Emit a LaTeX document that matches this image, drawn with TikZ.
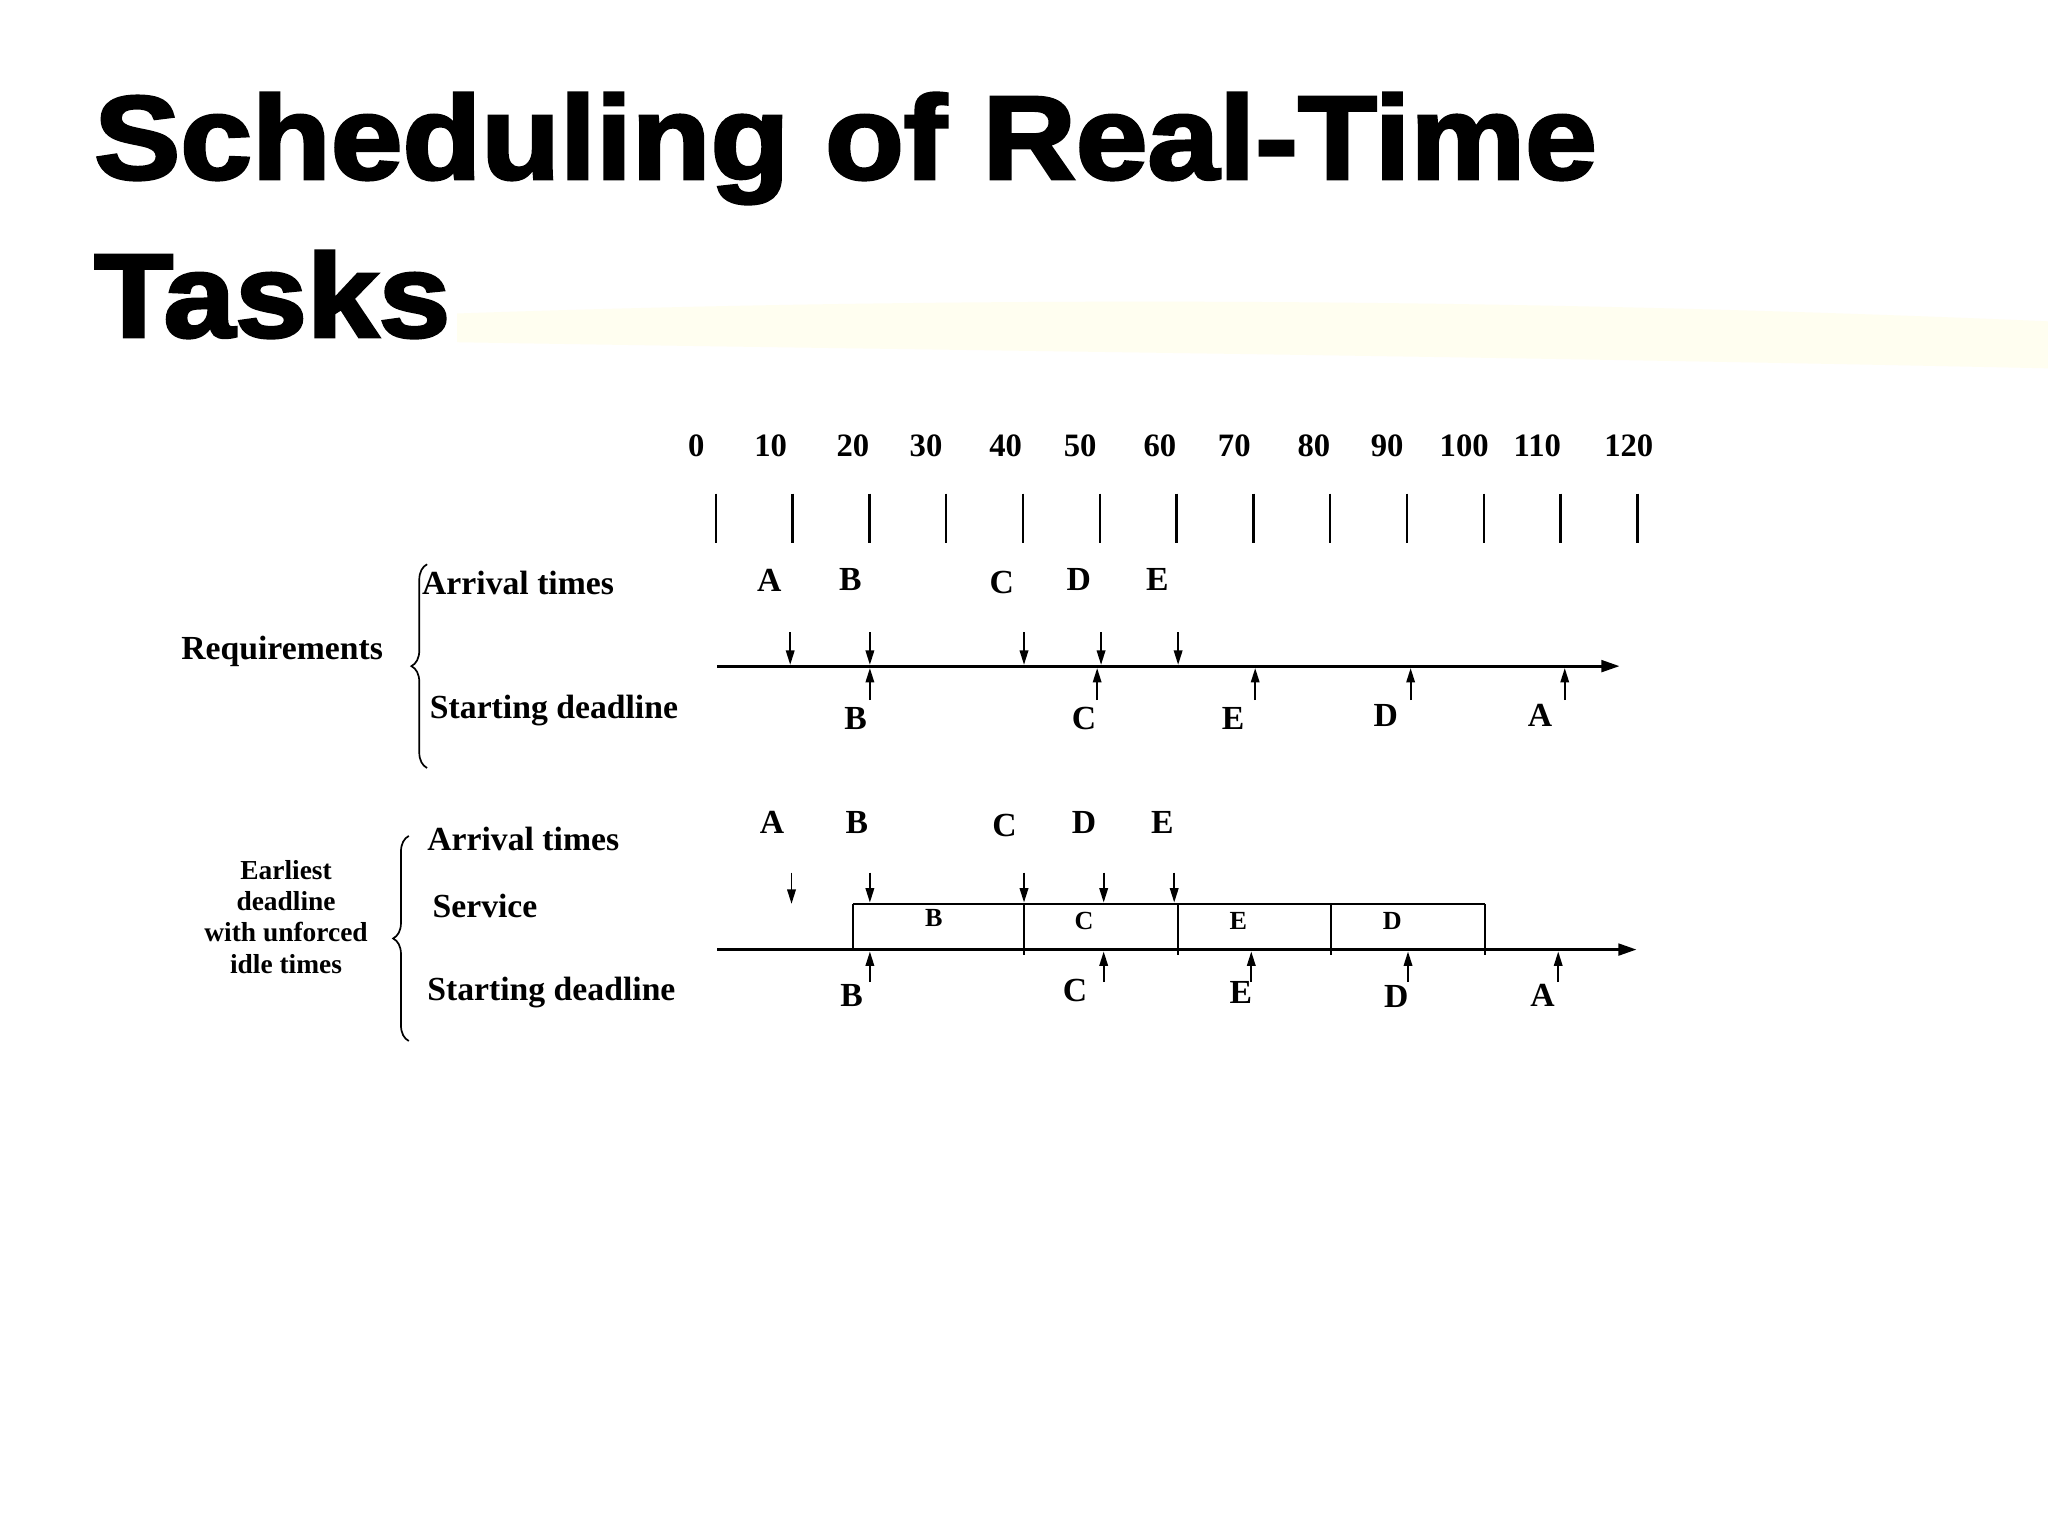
\documentclass[tikz,border=0pt]{standalone}
\usepackage{graphicx}
\usepackage{fontspec}
\setmainfont{Liberation Serif}
\newfontfamily\titlefont{Liberation Sans Bold}[FakeBold=2.5]
\usetikzlibrary{arrows.meta,decorations.pathreplacing}
\begin{document}
\begin{tikzpicture}[x=1pt,y=-1pt,
  ttl/.style={font=\titlefont\fontsize{91}{100}\selectfont, inner sep=0pt, anchor=base west},
  lbl/.style={font=\fontsize{25.8}{28}\selectfont\bfseries, inner sep=0pt},
  num/.style={font=\fontsize{25}{28}\selectfont\bfseries, inner sep=0pt},
  small/.style={font=\fontsize{20}{22}\selectfont\bfseries, inner sep=0pt},
  tickline/.style={line width=1.8pt},
  axis/.style={line width=2.2pt, -{Triangle[length=14pt,width=9pt]}},
  arr/.style={line width=1.4pt, -{Triangle[length=11pt,width=6.5pt]}},
  boxline/.style={line width=1.6pt},
  bracestyle/.style={decorate, decoration={brace, amplitude=12pt}, line width=1.3pt},
]
\useasboundingbox (0,0) rectangle (1568,1176);
\fill[white] (0,0) rectangle (1568,1176);

% faint highlight streak
\fill[yellow!6] (350,240) .. controls (700,228) and (1100,226) .. (1568,246)
  -- (1568,282) .. controls (1100,272) and (700,268) .. (350,262) -- cycle;

% title
\node[ttl] (title1) at (72,137) {\scalebox{1.085}[1]{Scheduling of Real-Time}};
\node[ttl] (title2) at (72,258) {\scalebox{1.085}[1]{Tasks}};

% time scale
\foreach \t/\lx in {0/533,10/590,20/653,30/709,40/770,50/827,60/888,70/945,80/1006,90/1062,100/1121,110/1177,120/1247}{
  \node[num] (n\t) at (\lx,341) {\t};
  \coordinate (tk\t a) at ({548+5.88*\t},378);
  \coordinate (tk\t b) at ({548+5.88*\t},416);
  \draw[tickline] (tk\t a) -- (tk\t b);
}

% ---------- section 1 ----------
\node[lbl] (req) at (216,499) {Requirements};
\node[lbl, anchor=west] (arrA) at (323,446) {Arrival times};
\node[lbl, anchor=west] (sdA) at (329,544) {Starting deadline};
\coordinate (brA1) at (327,588);
\coordinate (brA2) at (327,432);
\draw[bracestyle] (brA1) -- (brA2);

\foreach \l/\x/\y in {A/589/444,B/651/444,C/767/446,D/826/444,E/886/444}{
  \node[lbl] (a1\l) at (\x,\y) {\l};
}
\foreach \l/\x/\y in {B/655/550,C/830/550,E/944/550,D/1061/548,A/1179/548}{
  \node[lbl] (d1\l) at (\x,\y) {\l};
}
\coordinate (ax1s) at (549,510);
\coordinate (ax1e) at (1240,510);
\draw[axis] (ax1s) -- (ax1e);
\foreach \l/\x in {A/605,B/666,C/784,D/843,E/902}{
  \coordinate (da1\l) at (\x,484);
  \coordinate (db1\l) at (\x,509);
  \draw[arr] (da1\l) -- (db1\l);
}
\foreach \l/\x in {B/666,C/840,E/961,D/1080,A/1198}{
  \coordinate (ua1\l) at (\x,536);
  \coordinate (ub1\l) at (\x,511.5);
  \draw[arr] (ua1\l) -- (ub1\l);
}

% ---------- section 2 ----------
\node[align=center, font=\fontsize{21}{24}\selectfont\bfseries, inner sep=0pt] (edf) at (219,702)
  {Earliest\\deadline\\with unforced\\idle times};
\node[lbl, anchor=west] (arrB) at (327,642) {Arrival times};
\node[lbl, anchor=west] (srv) at (331,694) {Service};
\node[lbl, anchor=west] (sdB) at (327,760) {Starting deadline};
\coordinate (brB1) at (313,797);
\coordinate (brB2) at (313,640);
\draw[bracestyle] (brB1) -- (brB2);

\foreach \l/\x/\y in {A/591/630,B/656/630,C/769/632,D/830/630,E/890/630}{
  \node[lbl] (a2\l) at (\x,\y) {\l};
}
\foreach \l/\x/\y in {B/652/762,C/823/758,E/950/760,D/1069/763,A/1181/762}{
  \node[lbl] (d2\l) at (\x,\y) {\l};
}
\coordinate (ax2s) at (549,727);
\coordinate (ax2e) at (1253,727);
\draw[axis] (ax2s) -- (ax2e);

% service boxes
\coordinate (s0b) at (653,727);
\coordinate (s0t) at (653,692);
\coordinate (s4t) at (1137,692);
\coordinate (s4b) at (1137,731);
\draw[boxline] (s0b) -- (s0t);
\draw[line width=2pt] (s0t) -- (s4t);
\draw[boxline] (s4t) -- (s4b);
\foreach \i/\x in {1/784,2/902,3/1019}{
  \coordinate (s\i t) at (\x,692);
  \coordinate (s\i b) at (\x,731);
  \draw[boxline] (s\i t) -- (s\i b);
}
\node[small] (sB) at (715,703) {B};
\node[small] (sC) at (830,705) {C};
\node[small] (sE) at (948,705) {E};
\node[small] (sD) at (1066,705) {D};

\foreach \l/\x/\y in {A/606/692,B/666/691,C/784/691,D/845/691,E/899/691}{
  \coordinate (da2\l) at (\x,668);
  \coordinate (db2\l) at (\x,\y);
  \draw[arr] (da2\l) -- (db2\l);
}
\foreach \l/\x in {B/666,C/845,E/958,D/1078,A/1193}{
  \coordinate (ua2\l) at (\x,752);
  \coordinate (ub2\l) at (\x,728.5);
  \draw[arr] (ua2\l) -- (ub2\l);
}
\end{tikzpicture}
\end{document}
